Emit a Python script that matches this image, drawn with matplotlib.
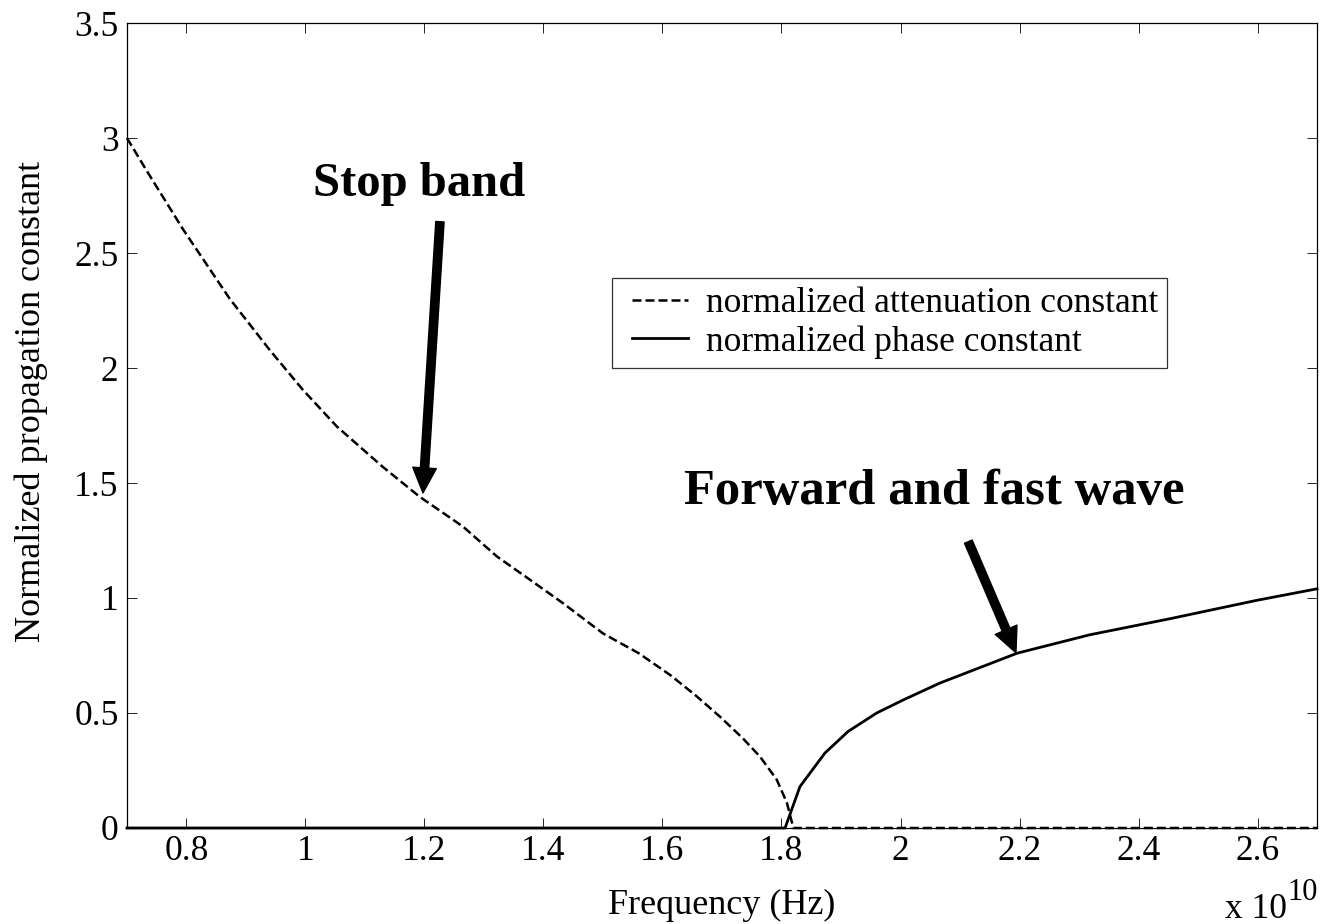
import numpy as np
import matplotlib
matplotlib.use('Agg')
import matplotlib.pyplot as plt
from matplotlib import rc
from matplotlib.legend_handler import HandlerLine2D
from matplotlib.lines import Line2D

rc('font', **{'family': 'serif', 'serif': ['Liberation Serif', 'DejaVu Serif'], 'size': 25})

# frequency in units of 1e10 Hz
f_att = [0.70, 0.735, 0.795, 0.873, 0.94, 0.996, 1.053, 1.13, 1.192, 1.265, 1.322,
         1.377, 1.433, 1.50, 1.56, 1.613, 1.655, 1.697, 1.735, 1.764, 1.792, 1.809,
         1.82, 2.70]
att = [3.0, 2.85, 2.60, 2.30, 2.078, 1.904, 1.745, 1.57, 1.44, 1.31, 1.18,
       1.08, 0.977, 0.846, 0.76, 0.665, 0.578, 0.483, 0.39, 0.31, 0.21, 0.11,
       0.0, 0.0]

f_ph = [0.70, 1.806, 1.831, 1.873, 1.912, 1.96, 2.004, 2.066, 2.196, 2.318, 2.453, 2.599, 2.70]
ph = [0.0, 0.0, 0.18, 0.326, 0.42, 0.50, 0.556, 0.63, 0.76, 0.84, 0.91, 0.99, 1.04]

xticks = [0.8, 1.0, 1.2, 1.4, 1.6, 1.8, 2.0, 2.2, 2.4, 2.6]
xticklabels = ['0.8', '1', '1.2', '1.4', '1.6', '1.8', '2', '2.2', '2.4', '2.6']
yticks = [0, 0.5, 1, 1.5, 2, 2.5, 3, 3.5]
yticklabels = ['0', '0.5', '1', '1.5', '2', '2.5', '3', '3.5']

fig = plt.figure(figsize=(13.21, 9.24), dpi=100)
ax = fig.add_axes([0.0961, 0.1039, 0.9009, 0.8712])

ax.plot(f_att, att, color='black', lw=1.8, linestyle=(0, (3.6, 1.6)),
        label='normalized attenuation constant', clip_on=False, zorder=3)
ax.plot(f_ph, ph, color='black', lw=2.0, linestyle='-',
        label='normalized phase constant', clip_on=False, zorder=3)

# arrows + labels
ax.annotate('', xy=(1.1975, 1.457), xytext=(1.226, 2.636),
            arrowprops=dict(facecolor='black', edgecolor='black', width=6,
                            headwidth=17, headlength=18, shrink=0))
ax.annotate('', xy=(2.194, 0.762), xytext=(2.114, 1.245),
            arrowprops=dict(facecolor='black', edgecolor='black', width=6,
                            headwidth=17, headlength=18, shrink=0))
ax.text(1.191, 2.80, 'Stop band', fontsize=35, fontweight='bold', ha='center', va='center')
ax.text(2.056, 1.46, 'Forward and fast wave', fontsize=36.5, fontweight='bold', ha='center', va='center')

ax.set_xlim(0.7, 2.7)
ax.set_ylim(0, 3.5)
ax.set_xticks(xticks)
ax.set_xticklabels(xticklabels)
ax.set_yticks(yticks)
ax.set_yticklabels(yticklabels)
ax.tick_params(which='both', direction='in', top=True, right=True, length=7, width=0.6, labelsize=25.5)
ax.tick_params(axis='x', pad=5)
ax.tick_params(axis='y', pad=6)
for s in ax.spines.values():
    s.set_linewidth(0.9)

ax.set_xlabel('Frequency (Hz)', fontsize=26)
ax.xaxis.set_label_coords(0.5, -0.076)
ax.set_ylabel('Normalized propagation constant', fontsize=26)
ax.yaxis.set_label_coords(-0.066, 0.53)

# x 10^10 multiplier
ax.text(0.9748, -0.1118, 'x 10', transform=ax.transAxes, ha='right', va='baseline', fontsize=25.5)
ax.text(0.9748, -0.089, '10', transform=ax.transAxes, ha='left', va='baseline', fontsize=22)

leg = ax.legend(loc='upper left', bbox_to_anchor=(0.4076, 0.683), borderaxespad=0,
                fontsize=25.5, frameon=True, fancybox=False, handlelength=1.9,
                handletextpad=0.5, borderpad=0.25, labelspacing=0.15,
                handler_map={Line2D: HandlerLine2D(xpad=0.3)})
leg.get_frame().set_edgecolor('black')
leg.get_frame().set_linewidth(0.9)

fig.savefig('out.png', dpi=100)
